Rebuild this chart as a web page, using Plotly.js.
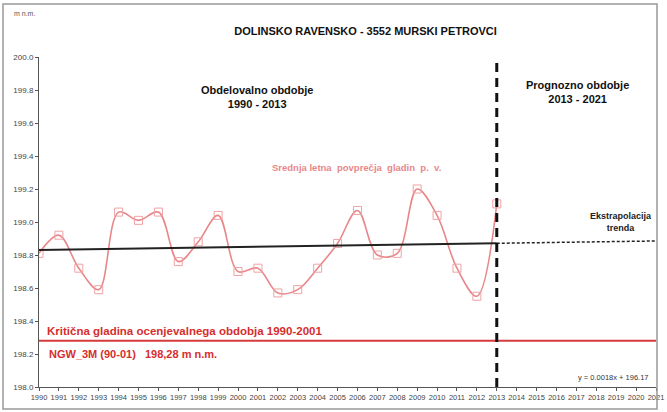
<!DOCTYPE html>
<html>
<head>
<meta charset="utf-8">
<script src="https://cdn.plot.ly/plotly-3.0.1.min.js"></script>
<style>html,body{margin:0;padding:0;background:#fff;}#chart{width:667px;height:412px;}</style>
</head>
<body>
<div id="chart"></div>
<script>
const years = [1990,1991,1992,1993,1994,1995,1996,1997,1998,1999,2000,2001,2002,2003,2004,2005,2006,2007,2008,2009,2010,2011,2012,2013];
const levels = [198.81,198.92,198.72,198.59,199.06,199.01,199.06,198.76,198.88,199.04,198.70,198.72,198.57,198.59,198.72,198.87,199.07,198.80,198.81,199.20,199.04,198.72,198.55,199.11];
const trendX = [1990, 2013];
const trendY = [198.83, 198.871];
const extrapX = [2013, 2021];
const extrapY = [198.871, 198.885];
const criticalX = [1990, 2021];
const criticalY = [198.28, 198.28];
const splitX = [2013, 2013];
const splitY = [198.0, 200.0];
const xTicks = [];
for (let y = 1990; y <= 2021; y++) xTicks.push(y);
const yTicks = [198.0,198.2,198.4,198.6,198.8,199.0,199.2,199.4,199.6,199.8,200.0];

const font = "Liberation Sans, Arial, sans-serif";

const traces = [
  {x: criticalX, y: criticalY, mode: 'lines', line: {color: '#D43C3C', width: 2}, hoverinfo: 'skip'},
  {x: years, y: levels, mode: 'lines+markers', line: {color: '#E8878A', width: 1.6, shape: 'spline', smoothing: 1},
   marker: {symbol: 'square-open', size: 8, color: '#EFA3A5', line: {width: 1}}},
  {x: trendX, y: trendY, mode: 'lines', line: {color: '#222222', width: 2}},
  {x: extrapX, y: extrapY, mode: 'lines', line: {color: '#222222', width: 1.5, dash: '3px,2px'}},
  {x: splitX, y: splitY, mode: 'lines', line: {color: '#111111', width: 3, dash: '9px,6px'}}
];

const layout = {
  width: 667, height: 412,
  margin: {l: 39, r: 11, t: 57, b: 25},
  paper_bgcolor: '#fff', plot_bgcolor: '#fff',
  showlegend: false,
  font: {family: font, size: 8, color: '#444'},
  title: {text: 'DOLINSKO RAVENSKO - 3552 MURSKI PETROVCI', x: 0.548, xanchor: 'center', y: 0.925, yanchor: 'middle',
          font: {family: font, size: 11, color: '#111', weight: 'bold'}},
  xaxis: {range: [1990, 2021], tickvals: xTicks, ticktext: xTicks.map(String), showgrid: false, zeroline: false,
          showline: true, linecolor: '#555', linewidth: 1, ticks: 'outside', ticklen: 3, tickcolor: '#555',
          tickfont: {size: 7.5, color: '#444'}, tickangle: 0, fixedrange: true},
  yaxis: {range: [198, 200], tickvals: yTicks, ticktext: yTicks.map(v => v.toFixed(1)), showgrid: false, zeroline: false,
          showline: true, linecolor: '#555', linewidth: 1, ticks: 'outside', ticklen: 3, tickcolor: '#555',
          tickfont: {size: 8, color: '#444'}, fixedrange: true},
  shapes: [
    {type: 'rect', xref: 'paper', yref: 'paper', x0: -36/617, x1: 1 + 1/617, y0: -22/330, y1: 1 + 53/330, line: {color: '#999', width: 1.5}}
  ],
  annotations: [
    {text: 'm n.m.', xref: 'paper', yref: 'paper', x: -27/617, y: 1 + 44/330, xanchor: 'left', yanchor: 'middle', showarrow: false, font: {size: 7, color: '#555'}},
    {text: '<b>Obdelovalno obdobje<br>1990 - 2013</b>', x: 2000.95, y: 199.85, yanchor: 'top', xanchor: 'center', showarrow: false, font: {size: 11, color: '#111'}},
    {text: '<b>Prognozno obdobje<br>2013 - 2021</b>', x: 2017.05, y: 199.88, yanchor: 'top', xanchor: 'center', showarrow: false, font: {size: 11, color: '#111'}},
    {text: '<b>Srednja letna  povprečja  gladin  p.  v.</b>', x: 2005.95, y: 199.33, xanchor: 'center', yanchor: 'middle', showarrow: false, font: {size: 9.5, color: '#E8878A'}},
    {text: '<b>Ekstrapolacija<br>trenda</b>', x: 2019.25, y: 198.92, xanchor: 'center', yanchor: 'bottom', showarrow: false, font: {size: 9, color: '#222'}},
    {text: '<b>Kritična gladina ocenjevalnega obdobja 1990-2001</b>', x: 1990.3, y: 198.29, xanchor: 'left', yanchor: 'bottom', showarrow: false, font: {size: 11.5, color: '#D62E2E'}},
    {text: '<b>NGW_3M (90-01)   198,28 m n.m.</b>', x: 1990.4, y: 198.2, xanchor: 'left', yanchor: 'middle', showarrow: false, font: {size: 11, color: '#D62E2E'}},
    {text: 'y = 0.0018x + 196.17', x: 2020.7, y: 198.06, xanchor: 'right', yanchor: 'middle', showarrow: false, font: {size: 7.5, color: '#333'}}
  ]
};

Plotly.newPlot('chart', traces, layout, {displayModeBar: false, staticPlot: true});
</script>
</body>
</html>
